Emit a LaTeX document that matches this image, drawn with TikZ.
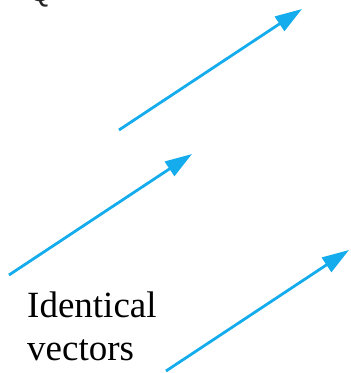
\documentclass[tikz,border=0pt]{standalone}
\usepackage{fontspec}
\setmainfont{Liberation Serif}
\newfontfamily\labelsans{Liberation Sans}
\usetikzlibrary{arrows.meta}
\definecolor{vecblue}{RGB}{20,172,236}
\tikzset{
  vec/.style={draw=vecblue, line width=2.8pt, -{Triangle[length=27pt,width=17pt]}},
  lbl/.style={font=\fontsize{37}{43}\selectfont, inner sep=0pt, anchor=base west}
}
\begin{document}
\begin{tikzpicture}[x=1pt,y=-1pt]
\useasboundingbox (0,0) rectangle (351,373);
\begin{scope}
\clip (0,0) rectangle (351,373);
\node[font=\labelsans\fontsize{30}{30}\selectfont, text=black!85, inner sep=0pt, anchor=base] (q) at (40,1) {Q};
\end{scope}
\coordinate (a1) at (119,130);
\coordinate (b1) at (302,9);
\coordinate (a2) at (9,275);
\coordinate (b2) at (192,154);
\coordinate (a3) at (166,371);
\coordinate (b3) at (349,250);
\draw[vec] (a1) -- (b1);
\draw[vec] (a2) -- (b2);
\draw[vec] (a3) -- (b3);
\node[lbl] (l1) at (27,317) {Identical};
\node[lbl] (l2) at (27,360) {vectors};
\end{tikzpicture}
\end{document}
